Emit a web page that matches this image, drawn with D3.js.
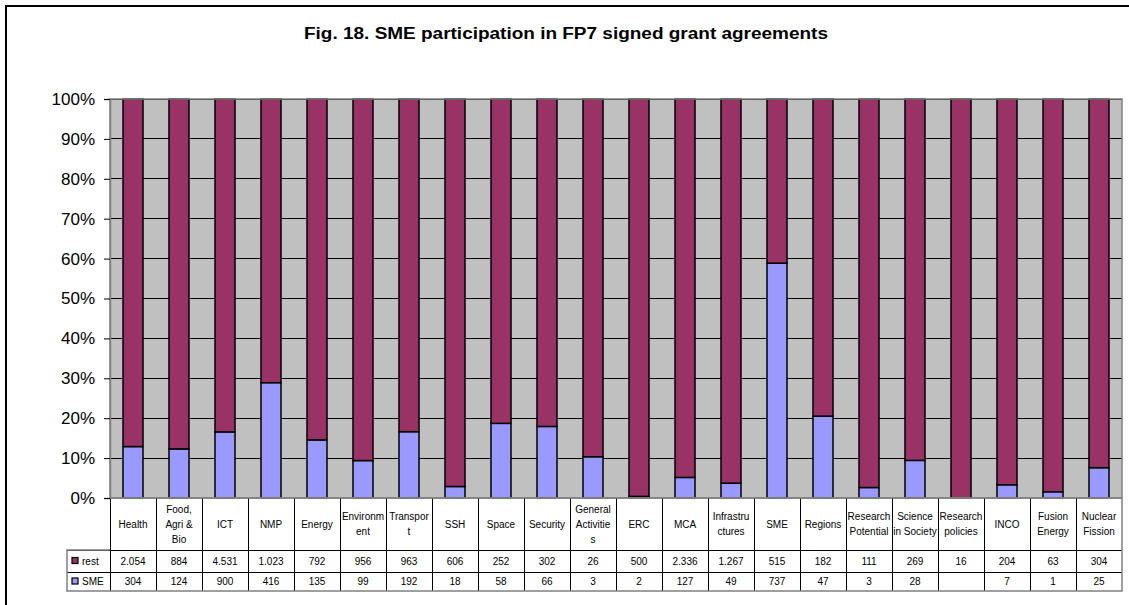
<!DOCTYPE html>
<html>
<head>
<meta charset="utf-8">
<script src="https://cdn.jsdelivr.net/npm/d3@7"></script>
<style>
  body { margin: 0; background: #fff; }
  text { font-family: Arial, "Liberation Sans", sans-serif; fill: #000; }
</style>
</head>
<body>
<svg id="chart" width="1129" height="605"></svg>
<script>
// categories, with the line breaks used in the data table
const categories = ['Health','Food, Agri & Bio','ICT','NMP','Energy','Environment','Transport','SSH','Space','Security',
  'General Activities','ERC','MCA','Infrastructures','SME','Regions','Research Potential','Science in Society',
  'Research policies','INCO','Fusion Energy','Nuclear Fission']
const headerLines = [['Health'],['Food,','Agri &','Bio'],['ICT'],['NMP'],['Energy'],['Environm','ent'],['Transpor','t'],['SSH'],['Space'],['Security'],
  ['General','Activitie','s'],['ERC'],['MCA'],['Infrastru','ctures'],['SME'],['Regions'],['Research','Potential'],['Science','in Society'],
  ['Research','policies'],['INCO'],['Fusion','Energy'],['Nuclear','Fission']]

// series values
const rest = [2054,884,4531,1023,792,956,963,606,252,302,26,500,2336,1267,515,182,111,269,16,204,63,304]
const sme  = [304,124,900,416,135,99,192,18,58,66,3,2,127,49,737,47,3,28,null,7,1,25]

const yTicks = [0,0.1,0.2,0.3,0.4,0.5,0.6,0.7,0.8,0.9,1]

const colorRest = '#993366'
const colorSme = '#9999FF'

const svg = d3.select('#chart')

const pLeft = 110, pRight = 1122, pTop = 99, pBottom = 498

// outer frame (runs off the right/bottom edge like the source)
svg.append('rect')
  .attr('x', 6).attr('y', 6).attr('width', 1140).attr('height', 620)
  .attr('fill', 'none').attr('stroke', '#000').attr('stroke-width', 2)

svg.append('text')
  .attr('x', 566).attr('y', 39)
  .attr('text-anchor', 'middle')
  .style('font-size', '16px').style('font-weight', 'bold')
  .attr('textLength', 524).attr('lengthAdjust', 'spacingAndGlyphs')
  .text('Fig. 18. SME participation in FP7 signed grant agreements')

const x = d3.scaleBand().domain(categories).range([pLeft, pRight]).paddingInner(0.565).paddingOuter(0.2825)
const colX = d3.scaleBand().domain(categories).range([pLeft, pRight])
const y = d3.scaleLinear().domain([0, 1]).range([pBottom, pTop])

// plot area
svg.append('rect')
  .attr('x', pLeft).attr('y', pTop).attr('width', pRight - pLeft).attr('height', pBottom - pTop)
  .attr('fill', '#C0C0C0')

svg.append('g').selectAll('line').data(yTicks.slice(1)).enter().append('line')
  .attr('x1', pLeft).attr('x2', pRight)
  .attr('y1', d => y(d)).attr('y2', d => y(d))
  .attr('stroke', '#000').attr('stroke-width', 1)
  .attr('shape-rendering', 'crispEdges')

const data = categories.map((c, i) => {
  const s = sme[i] || 0, r = rest[i]
  return { cat: c, sme: s / (s + r), rest: r / (s + r) }
})
const stack = d3.stack().keys(['sme', 'rest'])(data)

svg.append('g').selectAll('g').data(stack).enter().append('g')
  .attr('fill', d => d.key === 'sme' ? colorSme : colorRest)
  .selectAll('rect').data(d => d).enter().append('rect')
  .attr('x', d => x(d.data.cat))
  .attr('width', x.bandwidth())
  .attr('y', d => y(d[1]))
  .attr('height', d => y(d[0]) - y(d[1]))
  .attr('stroke', '#000').attr('stroke-width', 1.5)

svg.append('rect')
  .attr('x', pLeft).attr('y', pTop).attr('width', pRight - pLeft).attr('height', pBottom - pTop)
  .attr('fill', 'none').attr('stroke', '#808080').attr('stroke-width', 1.5)

// y axis
const yAxis = svg.append('g').attr('transform', `translate(${pLeft},0)`)
  .call(d3.axisLeft(y).tickValues(yTicks).tickFormat(d3.format('.0%')).tickSize(6).tickPadding(9))
yAxis.select('.domain').attr('stroke', '#808080').attr('stroke-width', 1.5)
yAxis.selectAll('.tick line').attr('stroke', '#000')
yAxis.selectAll('.tick text').style('font-size', '17px').attr('font-family', null)

// data table
const fmt = d3.formatLocale({ decimal: ',', thousands: '.', grouping: [3], currency: ['', ''] }).format(',d')
const row0 = pBottom, row1 = 550, row2 = 572, row3 = 591, legLeft = 67
const table = svg.append('g')

// header cells
table.selectAll('.hdr').data(categories).enter().append('text')
  .attr('class', 'hdr')
  .attr('text-anchor', 'middle')
  .style('font-size', '10px')
  .each(function (d, i) {
    const lines = headerLines[i]
    const cx = colX(d) + colX.bandwidth() / 2
    const y0 = (row0 + row1) / 2 - (lines.length - 1) * 15 / 2 + 3.5
    d3.select(this).selectAll('tspan').data(lines).enter().append('tspan')
      .attr('x', cx).attr('y', (l, j) => y0 + j * 15).text(l => l)
  })

const rows = [
  { name: 'rest', values: rest, color: colorRest, y0: row1, y1: row2 },
  { name: 'SME', values: sme, color: colorSme, y0: row2, y1: row3 }
]
rows.forEach(r => {
  table.append('g').selectAll('text').data(categories).enter().append('text')
    .attr('x', d => colX(d) + colX.bandwidth() / 2)
    .attr('y', (r.y0 + r.y1) / 2 + 3.5)
    .attr('text-anchor', 'middle')
    .style('font-size', '10px')
    .text((d, i) => r.values[i] == null ? '' : fmt(r.values[i]))
  table.append('rect')
    .attr('x', legLeft + 5).attr('y', (r.y0 + r.y1) / 2 - 3.5)
    .attr('width', 6).attr('height', 6)
    .attr('fill', r.color).attr('stroke', '#000').attr('stroke-width', 1.2)
  table.append('text')
    .attr('x', legLeft + 15).attr('y', (r.y0 + r.y1) / 2 + 3.5)
    .style('font-size', '10px')
    .text(r.name)
})

// table grid lines
const vlines = categories.slice(1).map(c => colX(c))
table.selectAll('.vl').data(vlines).enter().append('line')
  .attr('x1', d => d).attr('x2', d => d).attr('y1', row0).attr('y2', row3)
  .attr('stroke', '#000').attr('stroke-width', 1).attr('shape-rendering', 'crispEdges')
table.append('line').attr('x1', legLeft).attr('x2', pRight).attr('y1', row1).attr('y2', row1)
  .attr('stroke', '#000').attr('shape-rendering', 'crispEdges')
table.append('line').attr('x1', legLeft).attr('x2', pRight).attr('y1', row2).attr('y2', row2)
  .attr('stroke', '#000').attr('shape-rendering', 'crispEdges')
table.append('line').attr('x1', pLeft).attr('x2', pLeft).attr('y1', row0).attr('y2', row3)
  .attr('stroke', '#000').attr('shape-rendering', 'crispEdges')
table.append('path')
  .attr('d', `M${pLeft},${row0}H${pRight}V${row3}H${legLeft}V${row1}H${pLeft}`)
  .attr('fill', 'none').attr('stroke', '#808080').attr('stroke-width', 1.5)
</script>
</body>
</html>
